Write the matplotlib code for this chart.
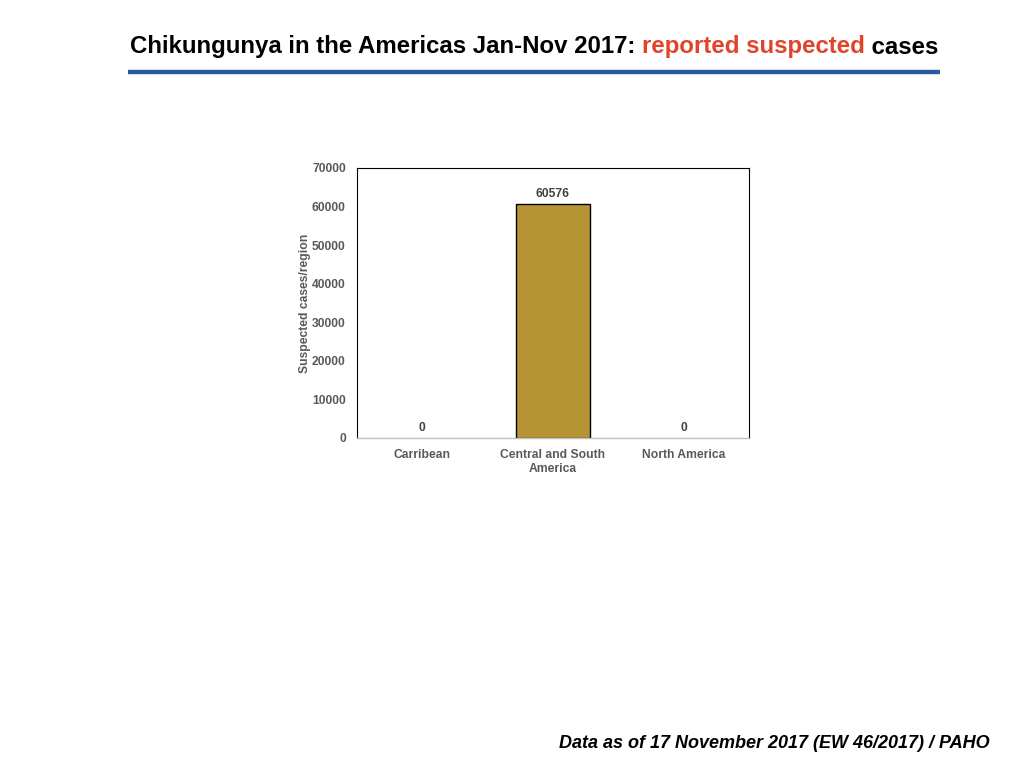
import matplotlib
matplotlib.use('Agg')
import matplotlib.pyplot as plt
from matplotlib.lines import Line2D

regions = ['Carribean', 'Central and South\nAmerica', 'North America']
cases = [0, 60576, 0]
yticks = [0, 10000, 20000, 30000, 40000, 50000, 60000, 70000]

title_parts = [('Chikungunya in the Americas Jan-Nov 2017: ', 'black'),
               ('reported suspected', '#e0442c'),
               (' cases', 'black')]
footer = 'Data as of 17 November 2017 (EW 46/2017) / PAHO'

plt.rcParams['font.family'] = ['Liberation Sans', 'DejaVu Sans']
grey = '#595959'
fs = 8.7

fig = plt.figure(figsize=(10.24, 7.68), dpi=100)
ax = fig.add_axes([0.3486, 0.4297, 0.3828, 0.3516])

x = range(len(regions))
# no outline on empty bars, as in the original
widths = [1 if v > 0 else 0 for v in cases]
ax.bar(x, cases, width=0.57, color='#b79433', edgecolor='black', linewidth=widths)
for xi, v in zip(x, cases):
    ax.text(xi, v + 1100, str(v), ha='center', va='bottom', fontsize=fs,
            fontweight='bold', color='#404040')

ax.set_xlim(-0.5, 2.5)
ax.set_ylim(0, 70000)
ax.set_yticks(yticks)
ax.set_yticklabels([str(t) for t in yticks], fontsize=fs, fontweight='bold', color=grey)
ax.set_xticks(list(x))
ax.set_xticklabels(regions, fontsize=fs, fontweight='bold', color=grey, linespacing=1.2)
ax.tick_params(length=0, pad=8)
ax.tick_params(axis='y', pad=8)
ax.set_ylabel('Suspected cases/region', fontsize=fs, fontweight='bold', color=grey, labelpad=1)
for s in ['left', 'top', 'right']:
    ax.spines[s].set_color('black')
    ax.spines[s].set_linewidth(0.8)
ax.spines['bottom'].set_color('#bfbfbf')
ax.spines['bottom'].set_linewidth(1)

# title made of coloured pieces
renderer = fig.canvas.get_renderer()
xpos = 130 / 1024
y_title = 1 - 47 / 768
for txt, col in title_parts:
    t = fig.text(xpos, y_title, txt, fontsize=17.3, fontweight='bold', color=col,
                 ha='left', va='center')
    bb = t.get_window_extent(renderer)
    xpos += bb.width / fig.bbox.width

fig.add_artist(Line2D([128 / 1024, 940 / 1024], [1 - 72 / 768, 1 - 72 / 768],
                      color='#2a5a9a', linewidth=3.2, solid_capstyle='butt',
                      transform=fig.transFigure))

fig.text(990 / 1024, 1 - 744 / 768, footer, fontsize=13, fontweight='bold',
         fontstyle='italic', ha='right', va='center', color='black')

fig.savefig('out.png', dpi=100)
